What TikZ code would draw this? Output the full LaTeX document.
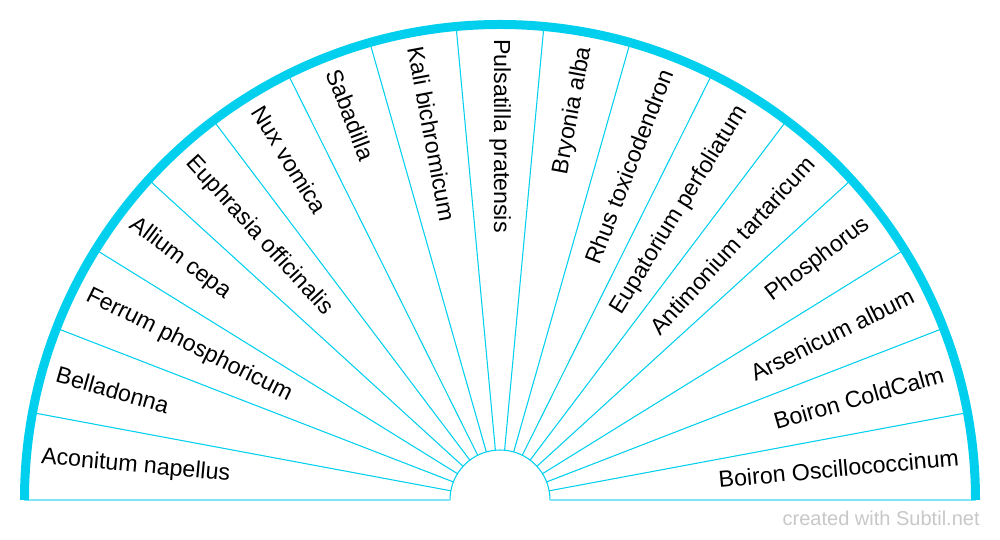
\documentclass[tikz,border=0pt]{standalone}
\usepackage{fontspec}
\setmainfont{Liberation Sans}
\definecolor{rimcyan}{HTML}{00D0EE}
\definecolor{basecyan}{HTML}{80E6F6}
\definecolor{footgray}{HTML}{C8C8C8}
\begin{document}
\begin{tikzpicture}[x=0.02cm,y=0.02cm,line cap=butt,line join=miter,font=\fontsize{13.2}{15}\selectfont]
			\tikzset{declare function={rin=50;rout=475.5;rtxt=461;wedge=180/17;},
				spoke/.style={draw=rimcyan,line width=0.6pt},
				lbl/.style={inner sep=0pt,text=black}
			}
			\fill[white] (-500,-40) rectangle (500,500);
			\useasboundingbox (-500,-40) rectangle (500,500);
			% spokes and inner ring
			\foreach \k in {1,...,16}
				\draw[spoke] (\k*wedge:rin)--(\k*wedge:rout);
			\draw[spoke] (rin,0) arc (0:180:rin);
			\draw[draw=basecyan,line width=1.2pt] (-rout,0)--(-rin,0) (rin,0)--(rout,0);
			\draw[draw=rimcyan,line width=0.18cm] (-rout,0) arc (180:0:rout);
			% labels
			\foreach \txt [count=\i] in {Aconitum napellus,Belladonna,Ferrum phosphoricum,Allium cepa,Euphrasia officinalis,Nux vomica,Sabadilla,Kali bichromicum,Pulsatilla pratensis}{
				\pgfmathsetmacro\a{180-(\i-0.5)*wedge}
				\node[lbl,anchor=west,rotate=\a-180] (rem\i) at (\a:rtxt) {\txt};
			}
			\foreach \txt [count=\i from 10] in {Bryonia alba,Rhus toxicodendron,Eupatorium perfoliatum,Antimonium tartaricum,Phosphorus,Arsenicum album,Boiron ColdCalm,Boiron Oscillococcinum}{
				\pgfmathsetmacro\a{180-(\i-0.5)*wedge}
				\node[lbl,anchor=east,rotate=\a] (rem\i) at (\a:rtxt) {\txt};
			}
			\node[anchor=base east,inner sep=0pt,text=footgray,font=\fontsize{11.4}{13}\selectfont] (credit) at (480,-26) {created with Subtil.net};
		\end{tikzpicture}
\end{document}
